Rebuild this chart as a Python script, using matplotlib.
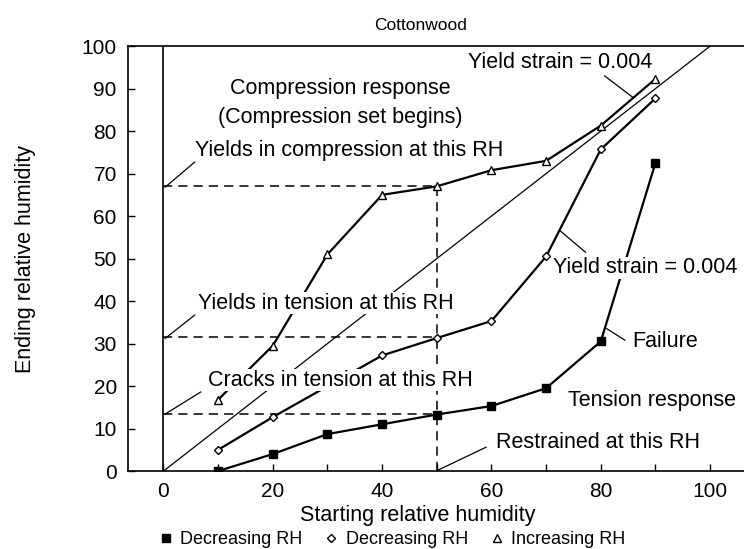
import matplotlib
matplotlib.use("Agg")
import matplotlib.pyplot as plt

plt.rcParams['font.family'] = ['Liberation Sans', 'DejaVu Sans']

# starting RH for each series
x_sq = [10, 20, 30, 40, 50, 60, 70, 80, 90]
y_sq = [0, 4, 8.7, 11, 13.3, 15.3, 19.5, 30.5, 72.5]      # decreasing RH (squares)
x_dia = [10, 20, 40, 50, 60, 70, 80, 90]
y_dia = [5, 12.7, 27.2, 31.3, 35.3, 50.5, 75.7, 87.7]      # decreasing RH (diamonds)
x_tri = [10, 20, 30, 40, 50, 60, 70, 80, 90]
y_tri = [16.8, 29.5, 51, 65, 67, 70.8, 73, 81.3, 92.3]     # increasing RH (triangles)

fig = plt.figure(figsize=(7.44, 5.49), dpi=100)
ax = fig.add_axes([0.172, 0.142, 0.828, 0.774])

# reference lines
ax.plot([0, 0], [0, 100], "k-", lw=1.2)
ax.plot([0, 100], [0, 100], "k-", lw=0.9)
ax.plot([0, 50], [67, 67], "k--", lw=1.1, dashes=(6, 4))
ax.plot([50, 50], [0, 67], "k--", lw=1.1, dashes=(6, 4))
ax.plot([0, 50], [31.5, 31.5], "k--", lw=1.1, dashes=(6, 4))
ax.plot([0, 50], [13.5, 13.5], "k--", lw=1.1, dashes=(6, 4))

ax.plot(x_sq, y_sq, "k-", marker="s", ms=5.5, mfc="k", lw=1.6, label="Decreasing RH")
ax.plot(x_dia, y_dia, "k-", marker="D", ms=4.5, mfc="white", lw=1.6, label="Decreasing RH")
ax.plot(x_tri, y_tri, "k-", marker="^", ms=5.5, mfc="white", lw=1.6, label="Increasing RH")

fs = 15.5
wb = dict(facecolor="white", edgecolor="none", pad=0.5)
ax.text(47, 104.8, "Cottonwood", ha="center", va="center", fontsize=12.5)
ax.text(32.3, 90, "Compression response", ha="center", va="center", fontsize=fs, zorder=5)
ax.text(32.3, 83.3, "(Compression set begins)", ha="center", va="center", fontsize=fs, zorder=5)
ax.text(5.8, 75.5, "Yields in compression at this RH", ha="left", va="center", fontsize=fs, zorder=5)
ax.text(55.7, 96.2, "Yield strain = 0.004", ha="left", va="center", fontsize=fs, bbox=wb, zorder=5)
ax.text(6.4, 39.5, "Yields in tension at this RH", ha="left", va="center", fontsize=fs, bbox=wb, zorder=5)
ax.text(8.2, 21.4, "Cracks in tension at this RH", ha="left", va="center", fontsize=fs, bbox=wb, zorder=5)
ax.text(71.2, 47.8, "Yield strain = 0.004", ha="left", va="center", fontsize=fs, bbox=wb, zorder=5)
ax.text(85.7, 30.4, "Failure", ha="left", va="center", fontsize=fs, zorder=5)
ax.text(74, 16.7, "Tension response", ha="left", va="center", fontsize=fs, zorder=5)
ax.text(60.8, 6.8, "Restrained at this RH", ha="left", va="center", fontsize=fs, zorder=5)

# leader lines
ax.plot([0.3, 5.7], [66.8, 72.7], "k-", lw=0.9)
ax.plot([0.3, 5.7], [31.2, 36.7], "k-", lw=0.9)
ax.plot([0.3, 6.8], [13.4, 18.6], "k-", lw=0.9)
ax.plot([50.2, 59], [0.2, 5.6], "k-", lw=0.9)
ax.plot([80.7, 85.8], [93, 88], "k-", lw=0.9)
ax.plot([72.6, 77.2], [56.5, 51.5], "k-", lw=0.9)
ax.plot([81.1, 84.4], [33.5, 30.8], "k-", lw=0.9)

ax.set_xlim(-6.5, 106.2)
ax.set_ylim(0, 100)
ax.set_xticks(range(0, 101, 20))
ax.set_xticks(range(0, 101, 10), minor=True)
ax.set_yticks(range(0, 101, 10))
ax.tick_params(direction="in", labelsize=15, length=5, width=1, pad=8)
ax.tick_params(which="minor", direction="in", length=5, width=1)
ax.spines["right"].set_visible(False)
for s in ["left", "bottom", "top"]:
    ax.spines[s].set_linewidth(1.2)

ax.set_xlabel("Starting relative humidity", fontsize=fs)
ax.set_ylabel("Ending relative humidity", fontsize=fs)
ax.xaxis.set_label_coords(0.47, -0.08)
ax.yaxis.set_label_coords(-0.15, 0.5)

fig.legend(loc="lower center", bbox_to_anchor=(0.527, -0.028), ncol=3, frameon=False,
           fontsize=13, handlelength=0.8, handletextpad=0.4, columnspacing=1.2)
# legend shows markers only
leg = fig.legends[0]
for h in leg.legend_handles:
    h.set_linestyle("None")

fig.savefig("out.png", dpi=100)
